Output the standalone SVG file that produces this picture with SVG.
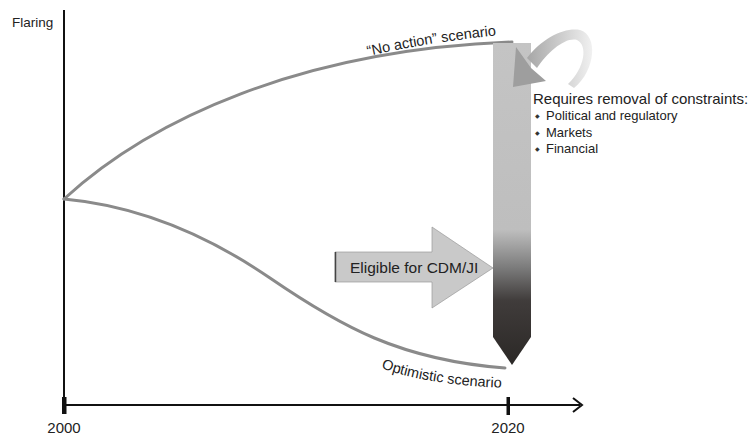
<svg xmlns="http://www.w3.org/2000/svg" width="755" height="437" viewBox="0 0 755 437">
<defs>
<linearGradient id="barGrad" gradientUnits="userSpaceOnUse" x1="0" y1="43" x2="0" y2="365">
<stop offset="0" stop-color="#c4c4c4"/>
<stop offset="0.58" stop-color="#bebebe"/>
<stop offset="0.70" stop-color="#7a7a7a"/>
<stop offset="0.80" stop-color="#403c3b"/>
<stop offset="1" stop-color="#2b2826"/>
</linearGradient>
<linearGradient id="curlGrad" gradientUnits="userSpaceOnUse" x1="595" y1="70" x2="518" y2="70">
<stop offset="0" stop-color="#f4f4f4"/>
<stop offset="1" stop-color="#9c9c9c"/>
</linearGradient>
<style>
.axis{stroke:#111;stroke-width:2;fill:none}
.curve{stroke:#8a8a8a;stroke-width:3;fill:none;stroke-linecap:round}
.lbl{font-family:"Liberation Sans",Arial,sans-serif;fill:#222}
.bul{font-family:"DejaVu Sans",sans-serif;fill:#333;font-size:6px}
</style>
</defs>
<g id="axes">
<line class="axis" x1="64" y1="10" x2="64" y2="405"/>
<line class="axis" x1="64" y1="405" x2="580" y2="405"/>
<polyline class="axis" points="573,398 582,405 573,412" stroke-width="2.5"/>
<rect x="62" y="397" width="4.5" height="17" fill="#111"/>
<rect x="506.5" y="397" width="3.5" height="18" fill="#111"/>
<text class="lbl" x="12" y="27" font-size="13.5">Flaring</text>
<text class="lbl" x="64" y="433" font-size="15" text-anchor="middle">2000</text>
<text class="lbl" x="508" y="433" font-size="15" text-anchor="middle">2020</text>
</g>
<g id="connectors">
<path id="noAction" class="curve" d="M64,199 C150,120 300,50 512,42"/>
<path id="optimistic" class="curve" d="M64,199 C130,205 200,230 270,278 S400,360 505,368"/>
</g>
<g id="labels">
<path id="naPath" d="M368,56 Q440,40 512,34" fill="none"/>
<path id="opPath" d="M381,368 Q430,386 512,388" fill="none"/>
<text class="lbl" font-size="14.5"><textPath href="#naPath">“No action” scenario</textPath></text>
<text class="lbl" font-size="14.5"><textPath href="#opPath">Optimistic scenario</textPath></text>
</g>
<g id="bar">
<path d="M493,43 L531,43 L531,337 L512,365 L493,337 Z" fill="url(#barGrad)"/>
</g>
<g id="eligible">
<path d="M335,252 L432,252 L432,227 L493,268 L432,308 L432,282 L335,282 Z" fill="#c9c9c9" stroke="#9a9a9a" stroke-width="0.7"/>
<line x1="335.5" y1="252" x2="335.5" y2="282" stroke="#444" stroke-width="1.5"/>
<text class="lbl" x="350" y="273" font-size="15.5">Eligible for CDM/JI</text>
</g>
<g id="curl">
<path d="M527,58 C542,38 565,27 580,30 C598,35 596,70 574,88 L568,84 C585,68 588,45 577,40 C565,37 548,52 537,68 Z" fill="url(#curlGrad)"/>
<polygon points="516,47 531,68 546,81 513,87" fill="#9e9e9e"/>
</g>
<g id="constraints">
<text class="lbl" x="533" y="104" font-size="15">Requires removal of constraints:</text>
<text class="bul" x="535" y="118">◆</text>
<text class="lbl" x="546" y="120" font-size="13">Political and regulatory</text>
<text class="bul" x="535" y="135">◆</text>
<text class="lbl" x="546" y="137" font-size="13">Markets</text>
<text class="bul" x="535" y="151">◆</text>
<text class="lbl" x="546" y="153" font-size="13">Financial</text>
</g>
</svg>
